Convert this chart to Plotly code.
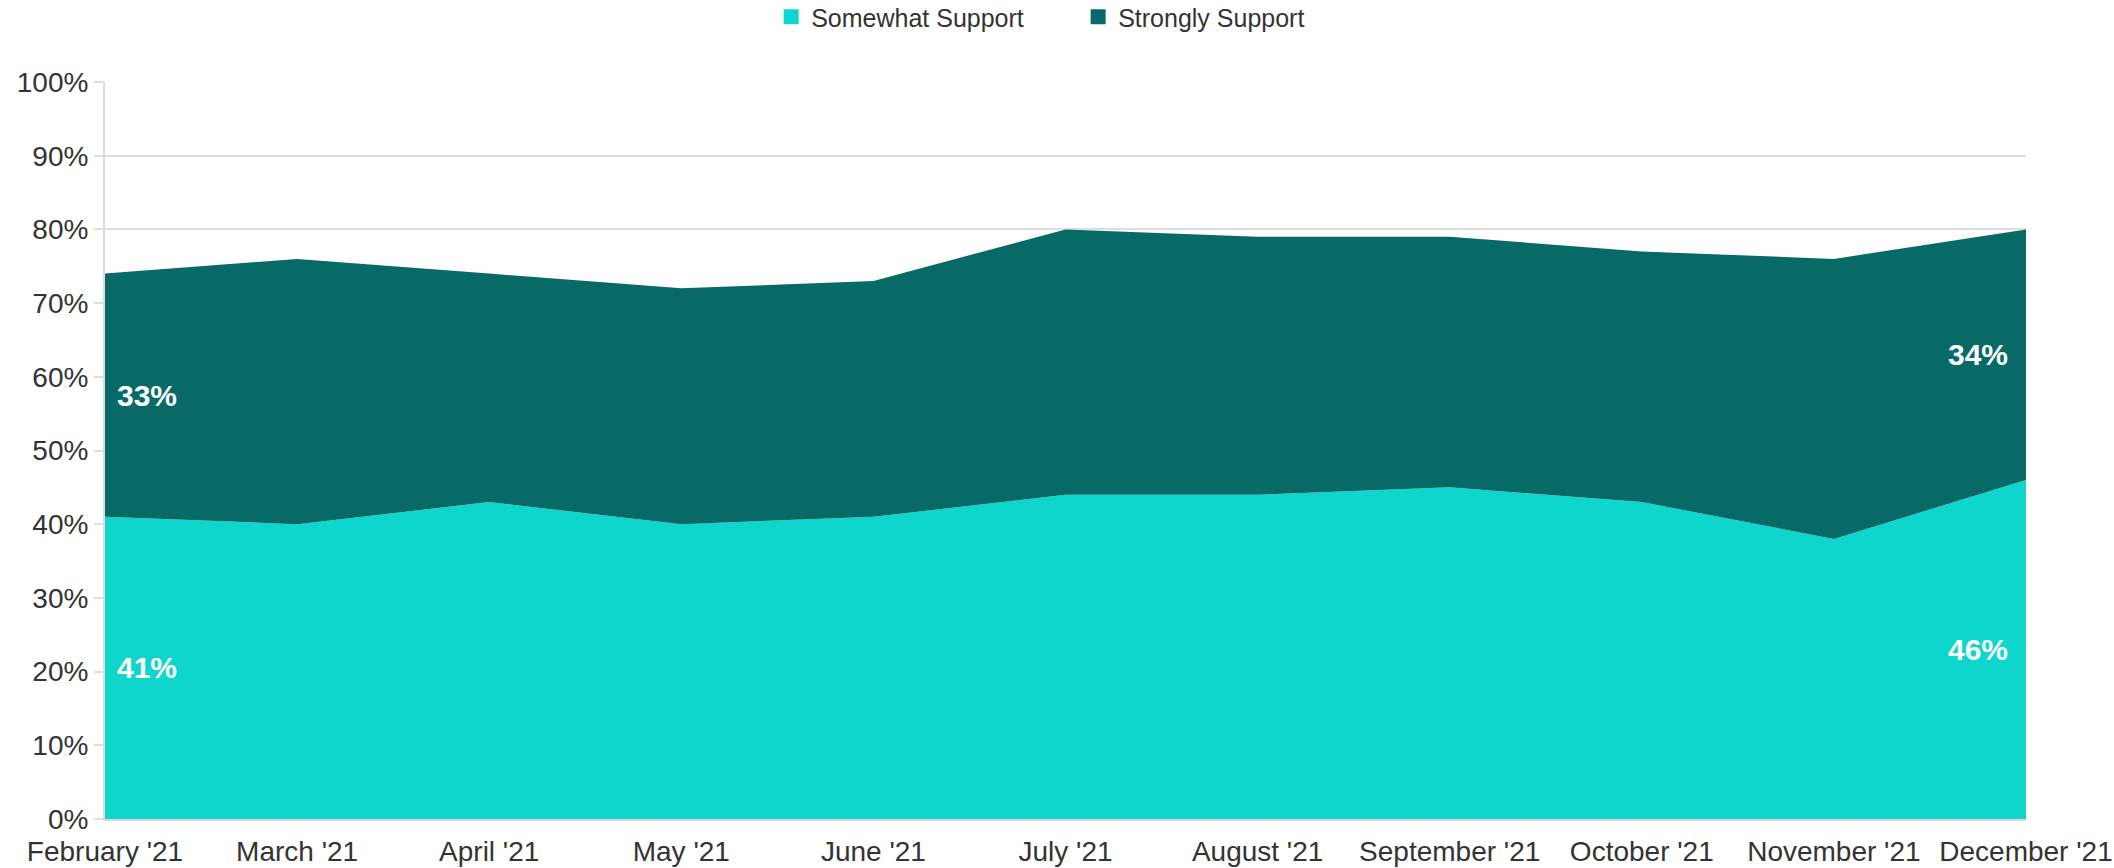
import plotly.graph_objects as go

months = ["February '21", "March '21", "April '21", "May '21", "June '21", "July '21",
          "August '21", "September '21", "October '21", "November '21", "December '21"]
somewhat = [41, 40, 43, 40, 41, 44, 44, 45, 43, 38, 46]
strongly = [33, 36, 31, 32, 32, 36, 35, 34, 34, 38, 34]
y_ticks = [0, 10, 20, 30, 40, 50, 60, 70, 80, 90, 100]

C_SOME = "#0fd6cc"
C_STRONG = "#086a66"
FONT = "Liberation Sans, Arial, sans-serif"

W, H = 2114, 868
xs = list(range(len(months)))
fig = go.Figure()
fig.add_trace(go.Scatter(x=xs, y=somewhat, stackgroup="s", mode="none",
                         fillcolor=C_SOME, line=dict(width=0), showlegend=False,
                         hoverinfo="skip"))
fig.add_trace(go.Scatter(x=xs, y=strongly, stackgroup="s", mode="none",
                         fillcolor=C_STRONG, line=dict(width=0), showlegend=False,
                         hoverinfo="skip"))
# legend entries
for name, col in [("Somewhat Support", C_SOME), ("Strongly Support", C_STRONG)]:
    fig.add_trace(go.Scatter(x=[None], y=[None], mode="markers", name=name,
                             marker=dict(symbol="square", size=15, color=col)))

# data labels at first and last points
n = len(months) - 1
for idx, anchor, shift in [(0, "left", 10), (n, "right", -16)]:
    fig.add_annotation(x=idx, y=somewhat[idx] / 2, text=f"<b>{somewhat[idx]}%</b>",
                       showarrow=False, xanchor=anchor, xshift=shift,
                       font=dict(size=30, color="white", family=FONT))
    fig.add_annotation(x=idx, y=somewhat[idx] + strongly[idx] / 2,
                       text=f"<b>{strongly[idx]}%</b>",
                       showarrow=False, xanchor=anchor, xshift=shift,
                       font=dict(size=30, color="white", family=FONT))

fig.update_layout(
    width=W, height=H,
    margin=dict(l=105, r=88, t=82, b=49, autoexpand=False),
    paper_bgcolor="white", plot_bgcolor="white",
    font=dict(family=FONT, size=28, color="#333333"),
    showlegend=True,
    legend=dict(orientation="h", x=0.51, xanchor="center",
                y=1 - 17 / H, yanchor="middle",
                xref="container", yref="container", traceorder="normal",
                font=dict(size=25, color="#333333"), itemwidth=30,
                entrywidth=262, bgcolor="rgba(0,0,0,0)"),
    xaxis=dict(range=[0, n], tickvals=xs, ticktext=months, showgrid=False,
               showline=True, linecolor="#d9d9d9", linewidth=2, ticks="",
               zeroline=False, automargin=False, ticklabelstandoff=6,
               tickfont=dict(size=28, color="#333333")),
    yaxis=dict(range=[0, 100], tickvals=y_ticks, ticktext=[f"{v}%" for v in y_ticks],
               showgrid=True, gridcolor="#dedede", gridwidth=2,
               showline=True, linecolor="#dedede", linewidth=2,
               ticks="outside", ticklen=9, tickcolor="#dedede", tickwidth=2,
               zeroline=False, automargin=False,
               tickfont=dict(size=28, color="#333333")),
)
fig.write_html("out.html", config={"displayModeBar": False},
               post_script="document.body.style.margin='0';document.body.style.overflow='hidden';")
